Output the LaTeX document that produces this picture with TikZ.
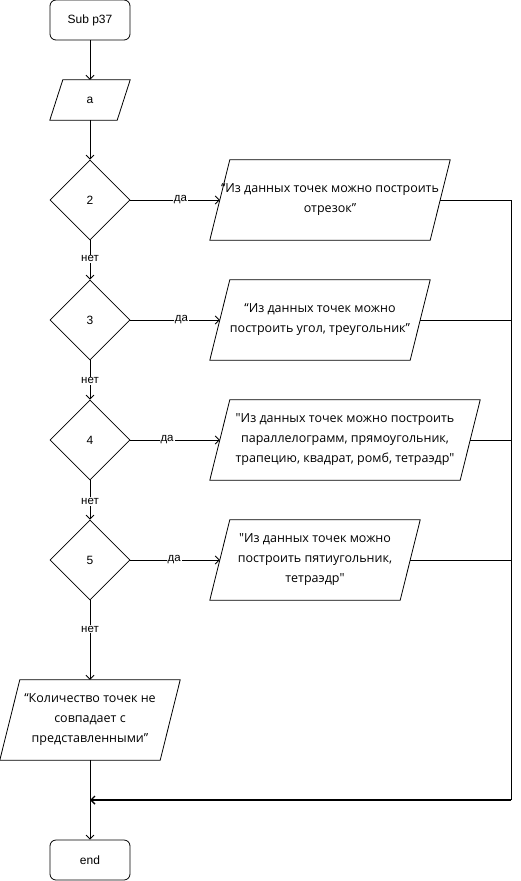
\documentclass[tikz,border=0pt]{standalone}
\usepackage{fontspec}
\setmainfont{Open Sans}[Ligatures=TeXOff]
\newfontfamily\arialf{Liberation Sans}
\usetikzlibrary{shapes.geometric,arrows.meta}
\begin{document}
\begin{tikzpicture}[x=1pt,y=-1pt,
  every node/.style={font=\fontsize{12.5}{20}\selectfont},
  term/.style={draw, line width=0.8pt, rounded corners=6pt, minimum width=80pt, minimum height=40pt, inner sep=0pt, font=\arialf\fontsize{12}{14}\selectfont},
  dec/.style={draw, line width=0.8pt, diamond, aspect=1, minimum width=80pt, minimum height=80pt, inner sep=0pt, font=\arialf\fontsize{12}{14}\selectfont},
  io/.style={inner sep=0pt, minimum height=80pt, align=center},
  lbl/.style={fill=white, inner sep=1pt, font=\arialf\fontsize{11.5}{12}\selectfont},
  flow/.style={draw, line width=0.8pt, -{Straight Barb[length=4pt,width=8pt]}},
  ln/.style={draw, line width=0.8pt},
]
\useasboundingbox (0,0) rectangle (520,881);

\node[term] (start) at (90,20) {Sub p37};
\node[io, minimum width=67pt, minimum height=40pt, font=\arialf\fontsize{12}{14}\selectfont] (a) at (90,100) {a};
\node[dec] (d2) at (90,200) {2};
\node[dec] (d3) at (90,320) {3};
\node[dec] (d4) at (90,440) {4};
\node[dec] (d5) at (90,560) {5};
\node[io, minimum width=220pt] (p1) at (330,200) {“Из данных точек можно построить\\отрезок”};
\node[io, minimum width=200pt] (p2) at (320,320) {“Из данных точек можно\\построить угол, треугольник”};
\node[io, minimum width=250pt] (p3) at (345,440) {"Из данных точек можно построить\\параллелограмм, прямоугольник,\\трапецию, квадрат, ромб, тетраэдр"};
\node[io, minimum width=190pt] (p4) at (315,560) {"Из данных точек можно\\построить пятиугольник,\\тетраэдр"};
\node[io, minimum width=160pt] (p5) at (90,720) {“Количество точек не\\совпадает с\\представленными”};
\node[term] (end) at (90,860) {end};

\foreach \n/\s in {a/6.5,p1/10,p2/10,p3/10,p4/10,p5/10}
  \draw[ln] ([xshift=-\s pt]\n.south west) -- ([xshift=\s pt]\n.north west) -- ([xshift=\s pt]\n.north east) -- ([xshift=-\s pt]\n.south east) -- cycle;

\draw[flow] (start) -- (a);
\draw[flow] (a) -- (d2);
\draw[flow] (d2) -- node[lbl,pos=0.47]{нет} (d3);
\draw[flow] (d3) -- node[lbl,pos=0.52]{нет} (d4);
\draw[flow] (d4) -- node[lbl,pos=0.54]{нет} (d5);
\draw[flow] (d5) -- node[lbl,pos=0.36]{нет} (p5);
\draw[flow] (p5) -- (end);

\draw[flow] (d2) -- node[lbl,pos=0.56]{да} (p1);
\draw[flow] (d3) -- node[lbl,pos=0.57]{да} (p2);
\draw[flow] (d4) -- node[lbl,pos=0.41]{да} (p3);
\draw[flow] (d5) -- node[lbl,pos=0.49]{да} (p4);

\coordinate (r) at (511,800);
\coordinate (j) at (90,800);
\draw[ln] (p1.east) -- (p1.east -| r) -- (r);
\draw[ln] (p2.east) -- (p2.east -| r);
\draw[ln] (p3.east) -- (p3.east -| r);
\draw[ln] (p4.east) -- (p4.east -| r);
\draw[flow, line width=1.4pt] (r) -- (j);
\end{tikzpicture}
\end{document}
